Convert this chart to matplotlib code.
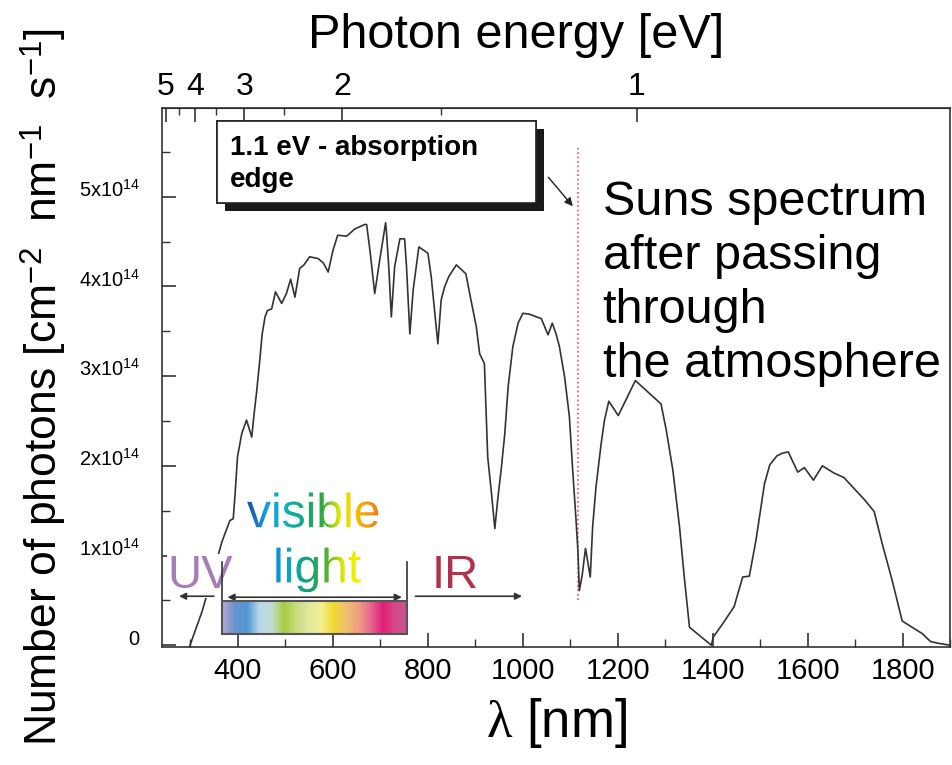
import numpy as np
import matplotlib
matplotlib.use("Agg")
import matplotlib.pyplot as plt
import matplotlib.transforms as mtransforms
import matplotlib.patheffects as pe
from matplotlib.patches import Rectangle
from matplotlib.textpath import TextPath
from matplotlib.font_manager import FontProperties, fontManager
from matplotlib.colors import LinearSegmentedColormap
from matplotlib.ticker import FuncFormatter, FixedLocator

plt.rcParams['font.family'] = ['Liberation Sans', 'DejaVu Sans']
plt.rcParams['mathtext.fontset'] = 'custom'
plt.rcParams['mathtext.rm'] = 'Liberation Sans'
plt.rcParams['mathtext.it'] = 'Liberation Serif'
plt.rcParams['mathtext.bf'] = 'Liberation Sans:bold'

# wavelength [nm] and photon flux [1e14 photons cm^-2 nm^-1 s^-1]
wavelength = [299, 324, 345, 366, 373, 383, 390, 394, 399, 408,
              418, 429, 434, 439, 446, 451, 457, 462, 471, 479,
              492, 502, 511, 520, 530, 539, 551, 569, 580, 590,
              600, 610, 629, 646, 667, 671, 678, 688, 699, 711,
              713, 718, 723, 730, 741, 751, 755, 762, 769, 781,
              800, 807, 821, 828, 835, 844, 860, 880, 888, 902,
              909, 919, 923, 926, 934, 941, 947, 955, 962, 969,
              979, 990, 1000, 1014, 1039, 1053, 1062, 1070, 1077, 1088,
              1098, 1105, 1112, 1116, 1119, 1125, 1132, 1142, 1147, 1154,
              1165, 1172, 1181, 1201, 1237, 1291, 1302, 1316, 1330, 1340,
              1351, 1397, 1401, 1421, 1445, 1463, 1477, 1491, 1509, 1520,
              1535, 1546, 1559, 1579, 1593, 1612, 1631, 1655, 1676, 1697,
              1720, 1740, 1757, 1778, 1799, 1820, 1841, 1859, 1877, 1900]
photons = [0.00, 0.37, 0.75, 1.15, 1.25, 1.39, 1.41, 1.69, 2.10, 2.36,
           2.51, 2.32, 2.58, 2.81, 3.18, 3.47, 3.66, 3.73, 3.75, 3.94,
           3.81, 3.92, 4.08, 3.88, 4.20, 4.24, 4.33, 4.31, 4.26, 4.16,
           4.40, 4.57, 4.56, 4.64, 4.69, 4.69, 4.40, 3.92, 4.31, 4.71,
           4.59, 4.18, 3.66, 4.22, 4.53, 4.53, 4.22, 3.47, 3.96, 4.44,
           4.37, 4.11, 3.36, 3.85, 3.99, 4.11, 4.24, 4.14, 3.92, 3.55,
           3.25, 3.14, 2.55, 2.10, 1.69, 1.30, 1.62, 1.99, 2.36, 2.88,
           3.33, 3.59, 3.70, 3.69, 3.64, 3.46, 3.59, 3.47, 3.33, 2.99,
           2.55, 1.95, 1.40, 1.05, 0.61, 0.78, 1.08, 0.76, 1.32, 1.76,
           2.25, 2.51, 2.72, 2.56, 2.95, 2.69, 2.40, 1.95, 1.32, 0.76,
           0.20, 0.00, 0.09, 0.24, 0.43, 0.76, 0.77, 1.17, 1.80, 2.01,
           2.11, 2.14, 2.155, 1.93, 1.98, 1.84, 2.00, 1.92, 1.87, 1.75,
           1.62, 1.49, 1.13, 0.72, 0.27, 0.20, 0.13, 0.04, 0.02, 0.00]

energy_major = [5, 4, 3, 2, 1]
energy_minor = [4.5, 3.5, 2.5, 1.5]
edge_nm = 1117          # 1.1 eV absorption edge (as drawn)
visible_range = (366, 757)

installed = {f.name for f in fontManager.ttflist}
if 'Liberation Sans Narrow' in installed:
    tick_family, tick_size = 'Liberation Sans Narrow', 25
else:
    tick_family, tick_size = 'Liberation Sans', 21

fig = plt.figure(figsize=(9.53, 7.65), dpi=100)
ax = fig.add_axes([0.170, 0.154, 0.827, 0.705])

ax.plot(wavelength, photons, color='#333333', lw=1.2, zorder=2)
ax.set_xlim(240, 1900)
ax.set_ylim(-0.022, 5.99)

# ticks
ax.set_xticks(np.arange(400, 1801, 200))
ax.set_xticks(np.arange(300, 1901, 100), minor=True)
ax.set_yticks(np.arange(0, 6, 1))
ax.set_yticks(np.arange(0.5, 6, 1), minor=True)
ax.yaxis.set_major_formatter(FuncFormatter(
    lambda v, p: '0' if v == 0 else '%dx10$^{14}$' % v))
ax.tick_params(which='both', direction='in', top=False, right=False, color='#333333')
ax.tick_params(which='major', length=10, width=1.2)
ax.tick_params(which='minor', length=6, width=1)
ax.tick_params(axis='x', labelsize=tick_size, pad=7, labelfontfamily=tick_family)
ax.tick_params(axis='y', labelsize=14.5, pad=16)
for lbl in ax.get_yticklabels():
    lbl.set_va('baseline')
for s in ax.spines.values():
    s.set_color('#333333')
    s.set_linewidth(1.2)

ax.set_xlabel(r'$\lambda$ [nm]', fontsize=38, labelpad=8)
ax.set_ylabel('Number of photons [cm$^{-2}$  nm$^{-1}$  s$^{-1}$]', fontsize=32, va='center')
ax.yaxis.set_label_coords(-0.150, 0.482)

# top axis: photon energy
def to_ev(l):
    with np.errstate(divide='ignore'):
        return 1240.0 / np.asarray(l, dtype=float)

secax = ax.secondary_xaxis('top', functions=(to_ev, to_ev))
secax.xaxis.set_major_locator(FixedLocator(energy_major))
secax.xaxis.set_minor_locator(FixedLocator(energy_minor))
secax.tick_params(which='both', direction='in', color='#333333')
secax.tick_params(which='major', length=10, width=1.2, labelsize=23, pad=4)
secax.tick_params(which='minor', length=5, width=1)
secax.set_xlabel('Photon energy [eV]', fontsize=35, va='center')
secax.xaxis.set_label_coords(0.449, 1.135, transform=ax.transAxes)

# absorption edge
ax.plot([edge_nm, edge_nm], [0.5, 5.55], color='#f05050', lw=1.2, ls=':', zorder=1)

# callout box with drop shadow
box = Rectangle((356, 4.928), 671, 0.914, facecolor='white', edgecolor='#222222',
                lw=1.2, zorder=4)
box.set_path_effects([pe.withSimplePatchShadow(offset=(6, -6), shadow_rgbFace='#1a1a1a',
                                               alpha=1.0), pe.Normal()])
ax.add_patch(box)
ax.text(383, 5.685, '1.1 eV - absorption\nedge', fontsize=20, fontweight='bold',
        va='top', ha='left', linespacing=1.3, zorder=5)
ax.annotate('', xy=(1109, 4.87), xytext=(1050, 5.24),
            arrowprops=dict(arrowstyle='-|>', color='#222222', lw=1, mutation_scale=12),
            zorder=5)

ax.text(1168, 5.19, 'Suns spectrum\nafter passing\nthrough\nthe atmosphere',
        fontsize=35, va='top', ha='left', linespacing=1.26, zorder=5)

# spectral regions
ax.text(320, 0.635, 'UV', fontsize=34, color='#a77db8', ha='center', va='baseline',
        zorder=3, bbox=dict(facecolor='white', edgecolor='none', pad=0))
ax.text(858, 0.635, 'IR', fontsize=34, color='#b3304a', ha='center', va='baseline', zorder=5)

lo, hi = visible_range
ax.plot([lo, lo], [0.49, 0.925], color='#333333', lw=1.2, zorder=5)
ax.plot([hi, hi], [0.49, 0.925], color='#333333', lw=1.2, zorder=5)
arrow_kw = dict(color='#333333', lw=1.2, mutation_scale=10)
ax.annotate('', xy=(hi - 6, 0.535), xytext=(lo + 6, 0.535),
            arrowprops=dict(arrowstyle='<|-|>', **arrow_kw), zorder=5)
ax.annotate('', xy=(270, 0.546), xytext=(355, 0.546),
            arrowprops=dict(arrowstyle='-|>', **arrow_kw), zorder=5)
ax.annotate('', xy=(1004, 0.546), xytext=(768, 0.546),
            arrowprops=dict(arrowstyle='-|>', **arrow_kw), zorder=5)

bar_colors = ['#b8a8d0', '#6a92d0', '#5098d0', '#b8d8ec', '#c0dcd0', '#a8cc40',
              '#c8dc80', '#e0e8a0', '#f4f090', '#f0d830', '#f0c070', '#f0a080',
              '#e86890', '#e02078', '#d84888', '#c05890']
bar_cmap = LinearSegmentedColormap.from_list('vis', bar_colors)
grad = np.linspace(0, 1, 256)[None, :]
ax.imshow(grad, cmap=bar_cmap, extent=(lo, hi, 0.12, 0.49), aspect='auto', zorder=4)
ax.add_patch(Rectangle((lo, 0.12), hi - lo, 0.37, fill=False, edgecolor='#555555',
                       lw=1.5, zorder=5))
ax.set_xlim(240, 1900)
ax.set_ylim(-0.022, 5.99)


def gradient_word(word, lam0, v0, size_px, colors):
    x0, y0 = ax.transData.transform((lam0, v0))
    tp = TextPath((0, 0), word, size=size_px, prop=FontProperties(family='Liberation Sans'))
    ext = tp.get_extents()
    inv = ax.transData.inverted()
    l, b = inv.transform((x0 + ext.x0, y0 + ext.y0))
    r, t = inv.transform((x0 + ext.x1, y0 + ext.y1))
    cmap = LinearSegmentedColormap.from_list(word, colors)
    im = ax.imshow(grad, cmap=cmap, extent=(l, r, b, t), aspect='auto', zorder=6)
    im.set_clip_path(tp, mtransforms.Affine2D().translate(x0, y0))


gradient_word('visible', 419, 1.315, 48,
              ['#1a4fa0', '#119fe0', '#10b0c0', '#10a880', '#30a840', '#f0f000',
               '#f5b000', '#ef7d1a'])
gradient_word('light', 474, 0.70, 48,
              ['#0a90e0', '#10a8b0', '#10a070', '#50b030', '#e8ea00', '#f4f000'])
ax.set_xlim(240, 1900)
ax.set_ylim(-0.022, 5.99)

fig.savefig('out.png', dpi=100)
